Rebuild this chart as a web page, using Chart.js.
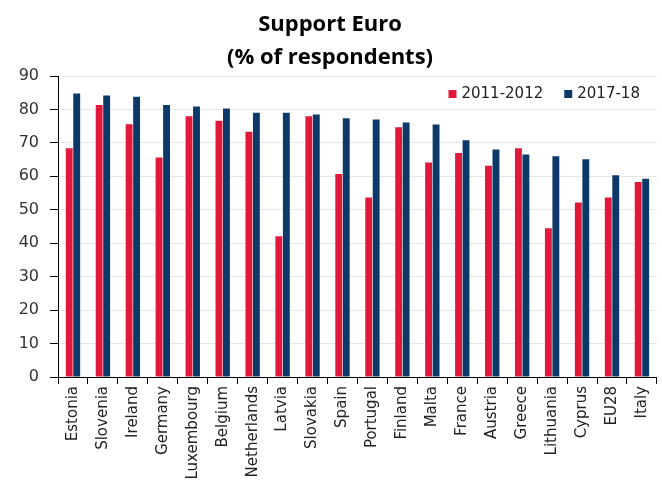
<!DOCTYPE html>
<html>
<head>
<meta charset="utf-8">
<script src="https://cdn.jsdelivr.net/npm/chart.js@4/dist/chart.umd.min.js"></script>
<style>
  html, body { margin: 0; padding: 0; background: #fff; }
  #wrap { width: 662px; height: 496px; }
</style>
</head>
<body>
<div id="wrap"><canvas id="c" width="662" height="496"></canvas></div>
<script>
const categories = ["Estonia","Slovenia","Ireland","Germany","Luxembourg","Belgium","Netherlands","Latvia","Slovakia","Spain","Portugal","Finland","Malta","France","Austria","Greece","Lithuania","Cyprus","EU28","Italy"];
const series2011 = [68.4,81.3,75.6,65.6,78.0,76.6,73.3,42.1,78.0,60.7,53.7,74.7,64.1,67.0,63.2,68.4,44.5,52.2,53.7,58.3];
const series2017 = [84.8,84.2,83.8,81.3,80.9,80.3,79.0,79.0,78.5,77.4,77.0,76.1,75.5,70.8,68.0,66.5,66.0,65.1,60.3,59.3];
const yTicks = [0,10,20,30,40,50,60,70,80,90];
const titleLines = ["Support Euro", "(% of respondents)"];

// Legend drawn inside the chart area (top-right), from the dataset labels/colours
const insideLegend = {
  id: 'insideLegend',
  afterDraw(chart) {
    const ctx = chart.ctx;
    const area = chart.chartArea;
    const font = '15px "DejaVu Sans"';
    ctx.save();
    ctx.font = font;
    ctx.textBaseline = 'middle';
    ctx.textAlign = 'left';
    const box = 8, gapBoxText = 5, gapItems = 21;
    const items = chart.data.datasets.map(d => ({ label: d.label, color: d.backgroundColor, w: ctx.measureText(d.label).width }));
    let total = 0;
    items.forEach((it, i) => { total += box + gapBoxText + it.w + (i < items.length - 1 ? gapItems : 0); });
    let x = area.right - 17 - total;
    const y = area.top + 18;
    items.forEach(it => {
      ctx.fillStyle = it.color;
      ctx.fillRect(x, y - box / 2, box, box);
      x += box + gapBoxText;
      ctx.fillStyle = '#222';
      ctx.fillText(it.label, x, y);
      x += it.w + gapItems;
    });
    ctx.restore();
  }
};

new Chart(document.getElementById('c'), {
  type: 'bar',
  data: {
    labels: categories,
    datasets: [
      { label: '2011-2012', data: series2011, backgroundColor: '#E1183C', categoryPercentage: 0.5, barPercentage: 0.92 },
      { label: '2017-18', data: series2017, backgroundColor: '#0C3967', categoryPercentage: 0.5, barPercentage: 0.92 }
    ]
  },
  plugins: [insideLegend],
  options: {
    responsive: false,
    animation: false,
    layout: { padding: { left: 0, right: 2, top: 0, bottom: 0 } },
    plugins: {
      title: {
        display: true,
        text: titleLines,
        font: { family: 'Open Sans', weight: 'bold', size: 22, lineHeight: 1.5 },
        color: '#000',
        padding: { top: 8, bottom: 2 }
      },
      legend: { display: false },
      tooltip: { enabled: false }
    },
    scales: {
      x: {
        grid: { display: true, drawOnChartArea: false, offset: true, tickLength: 7, tickColor: '#000' },
        border: { color: '#000', width: 1 },
        ticks: {
          autoSkip: false,
          maxRotation: 90,
          minRotation: 90,
          color: '#222',
          padding: 2,
          font: { family: 'DejaVu Sans', size: 15 }
        },
        afterFit: (scale) => { scale.height = 119; }
      },
      y: {
        min: 0,
        max: 90,
        afterBuildTicks: (scale) => { scale.ticks = yTicks.map(v => ({ value: v })); },
        grid: { color: '#E6E6E6', tickLength: 8, tickColor: '#000' },
        border: { color: '#000', width: 1 },
        ticks: {
          color: '#333',
          padding: 11,
          font: { family: 'DejaVu Sans', size: 16 }
        },
        afterFit: (scale) => { scale.width = 58; }
      }
    }
  }
});
</script>
</body>
</html>
